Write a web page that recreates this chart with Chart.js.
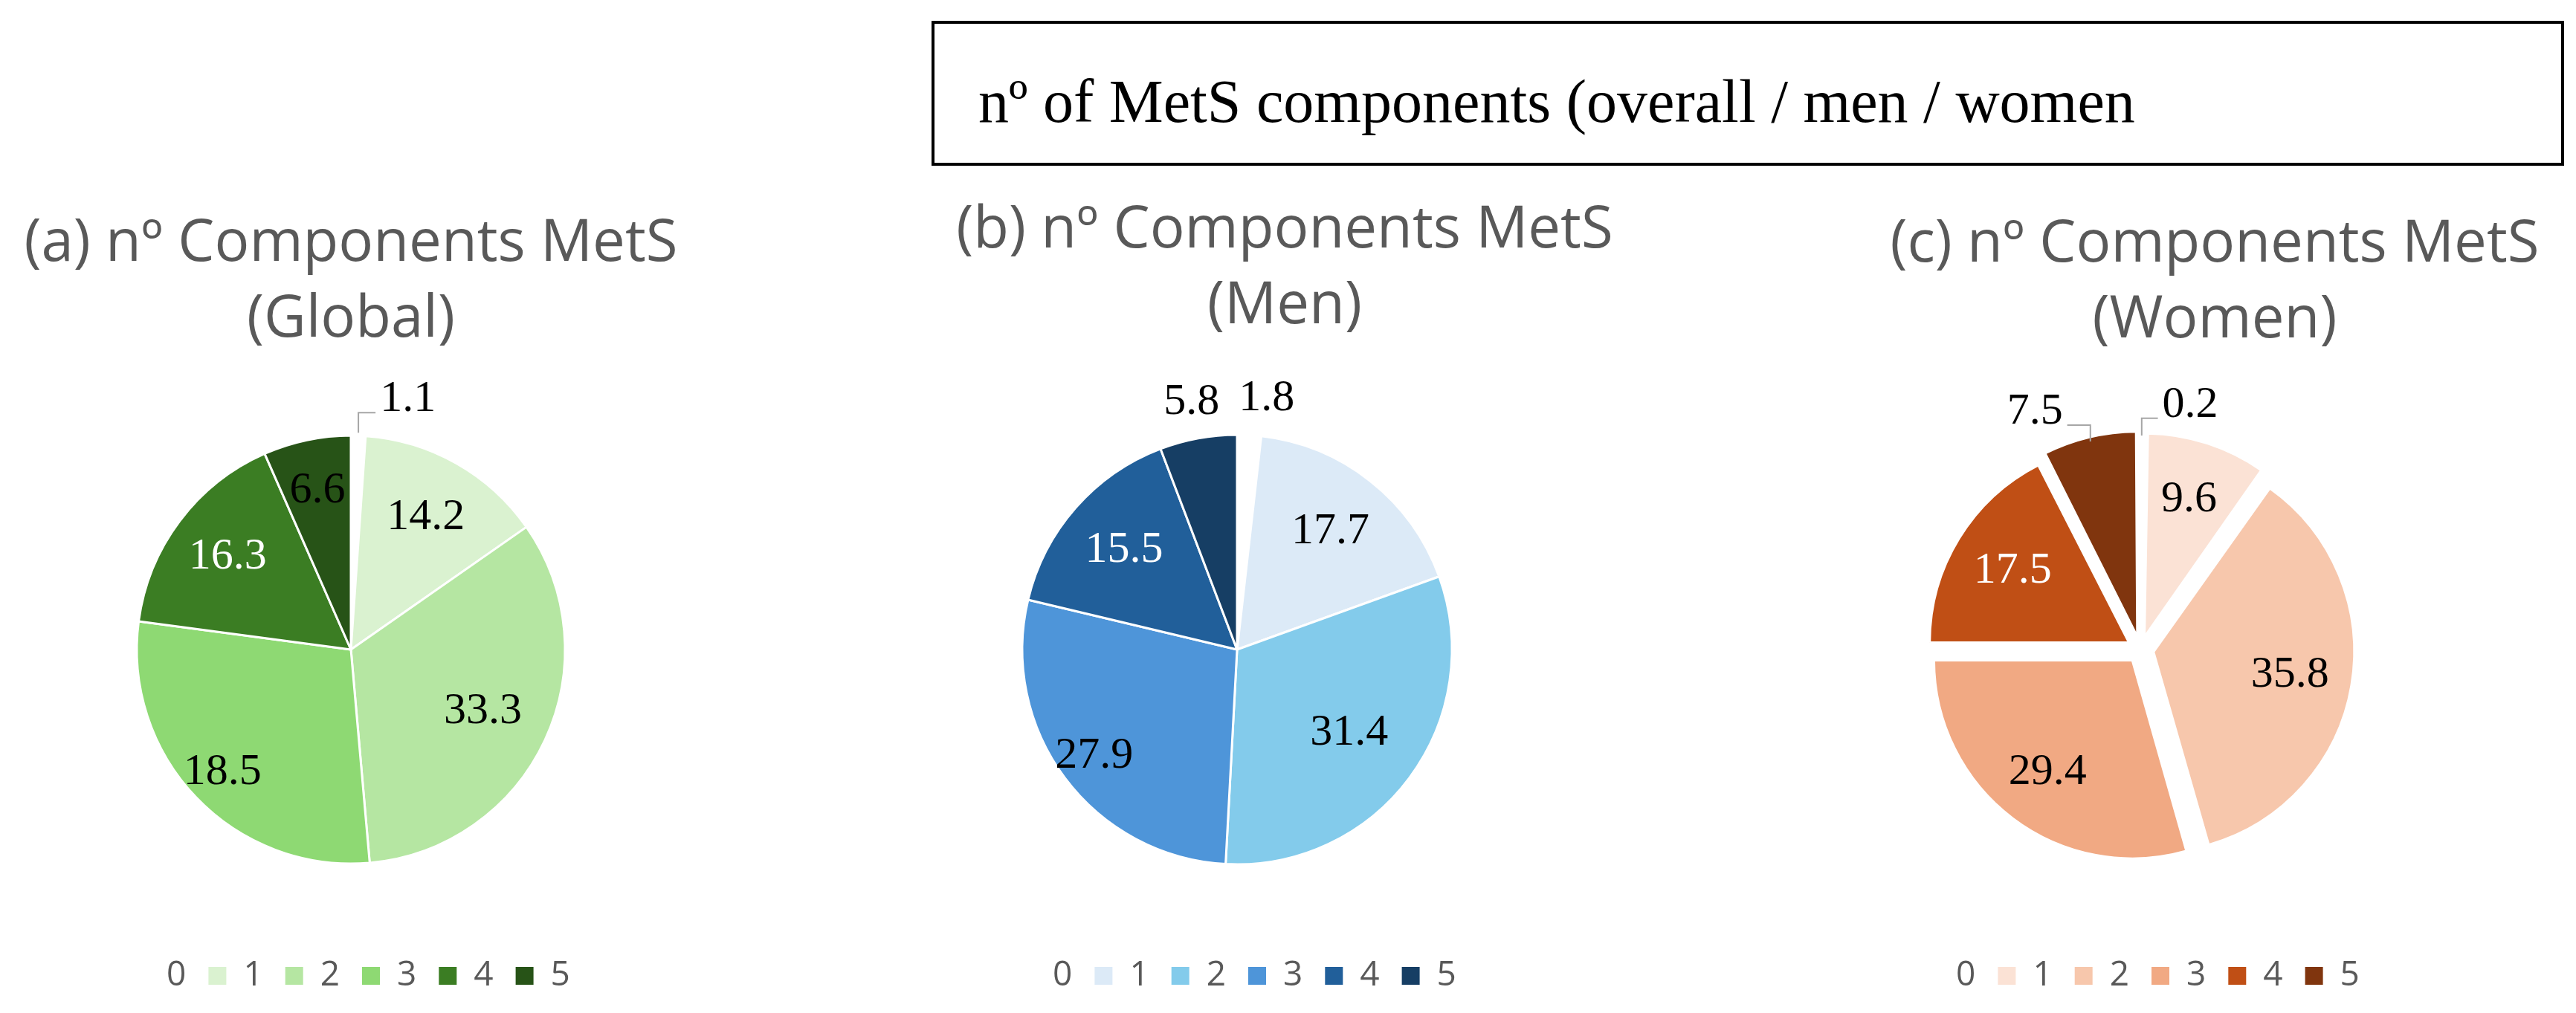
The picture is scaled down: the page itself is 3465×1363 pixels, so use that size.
<!DOCTYPE html>
<html>
<head>
<meta charset="utf-8">
<script src="https://cdn.jsdelivr.net/npm/chart.js@4.4.1/dist/chart.umd.min.js"></script>
<style>
  html, body { margin: 0; padding: 0; background: #fff; }
  #page { position: relative; width: 3465px; height: 1363px; overflow: hidden; background: #fff; }
  .box { position: absolute; left: 1253px; top: 28px; width: 2196px; height: 195px; border: 4px solid #000; box-sizing: border-box; }
  .box span { position: absolute; left: 59px; top: 64px; font: 82px "Liberation Serif", serif; line-height: 82px; white-space: nowrap; color: #000; }
  .ttl { position: absolute; width: 1100px; text-align: center; font: 78px "Open Sans", sans-serif; line-height: 102px; color: #595959; white-space: nowrap; z-index: 2; }
  .pie { position: absolute; top: 488px; }
</style>
</head>
<body>
<div id="page">
  <div class="box"><span>nº of MetS components (overall / men / women</span></div>

  <div class="ttl" style="left:-78px; top:270px">(a) nº Components MetS<br>(Global)</div>
  <div class="ttl" style="left:1178px; top:252px">(b) nº Components MetS<br>(Men)</div>
  <div class="ttl" style="left:2429px; top:271px">(c) nº Components MetS<br>(Women)</div>

  <canvas id="pieGlobal" class="pie" width="900" height="875" style="left:22px"></canvas>
  <canvas id="pieMen" class="pie" width="900" height="875" style="left:1214px"></canvas>
  <canvas id="pieWomen" class="pie" width="900" height="875" style="left:2429px"></canvas>
</div>

<script>
// number of MetS components
const categories = ['0', '1', '2', '3', '4', '5'];

const globalValues = [1.1, 14.2, 33.3, 28.5, 16.3, 6.6];
const menValues = [1.8, 17.7, 31.4, 27.9, 15.5, 5.8];
const womenValues = [0.2, 9.6, 35.8, 29.4, 17.5, 7.5];

// the figure prints 18.5 on slice "3" of (a), although the slice spans ~28.5 %
const globalPrinted = ['1.1', '14.2', '33.3', '18.5', '16.3', '6.6'];

const greens = ['#ffffff', '#daf2d0', '#b5e6a2', '#8ed973', '#3b7d23', '#275317'];
const blues = ['#ffffff', '#dceaf7', '#83cbeb', '#4e95d9', '#215f9a', '#163e64'];
const oranges = ['#ffffff', '#fbe2d5', '#f7c7ac', '#f1a983', '#c04f15', '#80350e'];

// value labels inside / outside the slices
const sliceLabels = {
  id: 'sliceLabels',
  afterDatasetsDraw(chart, args, opts) {
    const ctx = chart.ctx;
    const meta = chart.getDatasetMeta(0);
    const ds = chart.data.datasets[0];
    const texts = opts.text || ds.data.map(v => v.toFixed(1));
    ctx.save();
    ctx.font = '60px "Liberation Serif", serif';
    ctx.textBaseline = 'middle';
    ctx.textAlign = 'center';

    const outs = [];
    meta.data.forEach((arc, i) => {
      const p = arc.getProps(['x', 'y', 'startAngle', 'endAngle', 'outerRadius'], true);
      const mid = (p.startAngle + p.endAngle) / 2;
      const cos = Math.cos(mid), sin = Math.sin(mid);
      const shift = (arc.options.offset || 0) / 4;
      const cx = p.x + cos * shift, cy = p.y + sin * shift;
      const txt = texts[i];
      const w = ctx.measureText(txt).width;
      if (opts.outside.includes(i)) {
        const r = p.outerRadius * 1.17;
        const o = { i, txt, w, cos, sin, cx, cy, R: p.outerRadius, tx: cx + cos * r, ty: cy + sin * r };
        if (opts.leader.includes(i)) o.tx += (cos >= 0 ? 1 : -1) * 65;
        outs.push(o);
      } else {
        const r = p.outerRadius * opts.at[i];
        ctx.fillStyle = opts.colors[i];
        ctx.fillText(txt, cx + cos * r, cy + sin * r);
      }
    });

    // keep outside labels from running into each other
    outs.sort((a, b) => a.tx - b.tx);
    for (let k = 1; k < outs.length; k++) {
      const a = outs[k - 1], b = outs[k];
      const need = (a.w + b.w) / 2 + 26;
      if (b.tx - a.tx < need) b.tx = a.tx + need;
    }

    outs.forEach(o => {
      if (opts.leader.includes(o.i)) {
        const side = o.cos >= 0 ? 1 : -1;
        const ex = o.cx + o.cos * (o.R + 4), ey = o.cy + o.sin * (o.R + 4);
        const ly = o.ty + 18;
        ctx.beginPath();
        ctx.moveTo(ex, ey);
        ctx.lineTo(ex, ly);
        ctx.lineTo(o.tx - side * (o.w / 2 + 6), ly);
        ctx.strokeStyle = '#a6a6a6';
        ctx.lineWidth = 2;
        ctx.stroke();
      }
      ctx.fillStyle = opts.colors[o.i];
      ctx.fillText(o.txt, o.tx, o.ty);
    });
    ctx.restore();
  }
};

function legendItems(chart) {
  const base = (Chart.overrides.pie || Chart.overrides.doughnut).plugins.legend.labels.generateLabels;
  return base(chart).map(it => Object.assign(it, { lineWidth: 0, strokeStyle: it.fillStyle }));
}

function makePie(id, values, colors, radius, offset, labelOpts) {
  return new Chart(document.getElementById(id), {
    type: 'pie',
    data: {
      labels: categories,
      datasets: [{
        data: values,
        backgroundColor: colors,
        borderColor: '#ffffff',
        borderWidth: 3,
        radius: radius,
        offset: offset,
        hoverOffset: 0
      }]
    },
    options: {
      responsive: false,
      animation: false,
      radius: radius,
      layout: { padding: { top: 0, bottom: 17, left: 0, right: 0 } },
      plugins: {
        legend: {
          position: 'bottom',
          labels: {
            color: '#595959',
            font: { family: 'Open Sans', size: 46 },
            boxWidth: 24,
            boxHeight: 24,
            padding: 30,
            generateLabels: legendItems
          }
        },
        tooltip: { enabled: false },
        sliceLabels: labelOpts
      }
    },
    plugins: [sliceLabels]
  });
}

makePie('pieGlobal', globalValues, greens, 288, 0, {
  text: globalPrinted,
  colors: ['#000', '#000', '#000', '#000', '#fff', '#000'],
  at: [0, 0.71, 0.68, 0.83, 0.72, 0.76],
  outside: [0],
  leader: [0]
});

makePie('pieMen', menValues, blues, 289, 0, {
  colors: ['#000', '#000', '#000', '#000', '#fff', '#000'],
  at: [0, 0.70, 0.65, 0.83, 0.70, 0],
  outside: [0, 5],
  leader: []
});

makePie('pieWomen', womenValues, oranges, 266, 72, {
  colors: ['#000', '#000', '#000', '#000', '#fff', '#000'],
  at: [0, 0.73, 0.70, 0.71, 0.69, 0],
  outside: [0, 5],
  leader: [0, 5]
});
</script>
</body>
</html>
